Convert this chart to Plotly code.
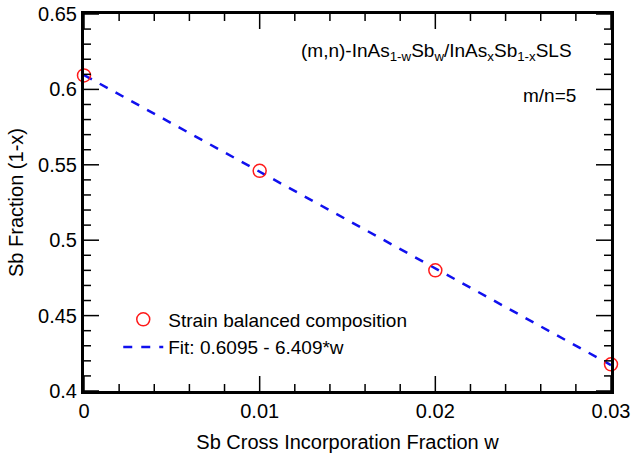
import numpy as np
import plotly.graph_objects as go

w_vals = [0.0, 0.01, 0.02, 0.03]
sb_frac = [0.6093, 0.546, 0.480, 0.4177]
fit_x = [0.0, 0.03]
fit_y = [0.6095, 0.4172]
x_ticks = [0, 0.01, 0.02, 0.03]
x_labels = ["0", "0.01", "0.02", "0.03"]
y_ticks = [0.4, 0.45, 0.5, 0.55, 0.6, 0.65]
y_labels = ["0.4", "0.45", "0.5", "0.55", "0.6", "0.65"]
x_minor_step = 0.002
y_minor_step = 0.01

FONT = "Liberation Sans, Arial, sans-serif"
XR = [0, 0.03]
YR = [0.4, 0.65]
W, H = 632, 455
ML, MR, MT, MB = 84, 21, 14, 64
PW, PH = W - ML - MR, H - MT - MB
MAJ, MIN = 15, 7

fig = go.Figure()
fig.add_trace(go.Scatter(
    x=fit_x, y=fit_y, mode="lines", name="Fit: 0.6095 - 6.409*w",
    line=dict(color="#1010ee", width=2.5, dash="dash"), legendrank=2,
    cliponaxis=False))
fig.add_trace(go.Scatter(
    x=w_vals, y=sb_frac, mode="markers", name="Strain balanced composition",
    marker=dict(symbol="circle-open", size=13, color="#ff1a1a", line=dict(width=1.5, color="#ff1a1a")),
    legendrank=1, cliponaxis=False))

axis_common = dict(
    showline=True, linecolor="black", linewidth=3, mirror=True,
    ticks="", showgrid=False, zeroline=False, automargin=False,
    tickfont=dict(family=FONT, size=20, color="black"),
)

fig.update_layout(
    template="none",
    width=W, height=H,
    margin=dict(l=ML, r=MR, t=MT, b=MB, autoexpand=False),
    paper_bgcolor="white", plot_bgcolor="white",
    showlegend=True,
    legend=dict(x=0.065, y=0.24, xanchor="left", yanchor="top", bgcolor="rgba(0,0,0,0)",
                font=dict(family=FONT, size=19, color="black"), tracegroupgap=0, itemwidth=40),
    font=dict(family=FONT),
    xaxis=dict(range=XR, tickmode="array", tickvals=x_ticks, ticktext=x_labels,
               title=dict(text="Sb Cross Incorporation Fraction w", font=dict(family=FONT, size=20, color="black"), standoff=14),
               **axis_common),
    yaxis=dict(range=YR, tickmode="array", tickvals=y_ticks, ticktext=y_labels,
               title=dict(text="Sb Fraction (1-x)", font=dict(family=FONT, size=20, color="black"), standoff=10),
               **axis_common),
)

# tick marks drawn inside the frame on all four sides
tick_line = dict(color="black", width=1.5)
x_minor = [v for v in np.arange(XR[0], XR[1] + 1e-9, x_minor_step)
           if min(abs(v - t) for t in x_ticks) > 1e-9]
y_minor = [v for v in np.arange(YR[0], YR[1] + 1e-9, y_minor_step)
           if min(abs(v - t) for t in y_ticks) > 1e-9]
for vals, ln in ((x_ticks, MAJ), (x_minor, MIN)):
    f = ln / PH
    for v in vals:
        fig.add_shape(type="line", xref="x", yref="paper", x0=v, x1=v, y0=0, y1=f, line=tick_line, layer="above")
        fig.add_shape(type="line", xref="x", yref="paper", x0=v, x1=v, y0=1, y1=1 - f, line=tick_line, layer="above")
for vals, ln in ((y_ticks, MAJ), (y_minor, MIN)):
    f = ln / PW
    for v in vals:
        fig.add_shape(type="line", xref="paper", yref="y", x0=0, x1=f, y0=v, y1=v, line=tick_line, layer="above")
        fig.add_shape(type="line", xref="paper", yref="y", x0=1, x1=1 - f, y0=v, y1=v, line=tick_line, layer="above")

fig.add_annotation(xref="paper", yref="paper", x=0.93, y=0.9, xanchor="right", yanchor="middle",
                   text="(m,n)-InAs<sub>1-w</sub>Sb<sub>w</sub>/InAs<sub>x</sub>Sb<sub>1-x</sub>SLS",
                   showarrow=False, font=dict(family=FONT, size=19, color="black"))
fig.add_annotation(xref="paper", yref="paper", x=0.938, y=0.785, xanchor="right", yanchor="middle",
                   text="m/n=5", showarrow=False, font=dict(family=FONT, size=19, color="black"))

fig.write_html("out.html")
